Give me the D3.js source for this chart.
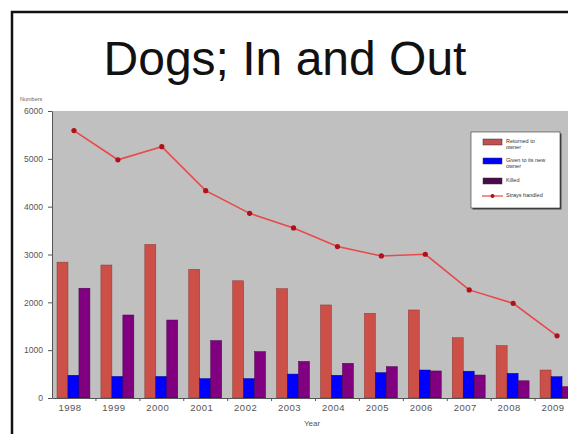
<!DOCTYPE html>
<html>
<head>
<meta charset="utf-8">
<script src="https://cdn.jsdelivr.net/npm/d3@7"></script>
<style>
  body { margin: 0; background: #fff; }
  svg { display: block; font-family: "Liberation Sans", Arial, sans-serif; }
</style>
</head>
<body>
<svg width="568" height="434"></svg>
<script>
// Data
const years = ["1998", "1999", "2000", "2001", "2002", "2003", "2004", "2005", "2006", "2007", "2008", "2009"];
const returned = [2840, 2780, 3210, 2690, 2450, 2285, 1945, 1770, 1840, 1260, 1095, 585];
const rehomed = [475, 450, 450, 405, 405, 500, 475, 530, 585, 560, 515, 445];
const killed = [2295, 1735, 1630, 1200, 970, 765, 725, 655, 565, 480, 360, 235];
const strays = [5590, 4980, 5255, 4335, 3860, 3555, 3165, 2970, 3005, 2260, 1980, 1300];
const yTicks = [0, 1000, 2000, 3000, 4000, 5000, 6000];
const seriesNames = ["Returned to owner", "Given to its new owner", "Killed", "Strays handled"];

const svg = d3.select("svg");

// slide frame
svg.append("path")
  .attr("d", "M12,440 L12,12 L575,12")
  .attr("fill", "none")
  .attr("stroke", "#111")
  .attr("stroke-width", 2.5);

// title
svg.append("text")
  .attr("x", 285).attr("y", 75)
  .attr("text-anchor", "middle")
  .attr("font-size", 48)
  .attr("fill", "#111")
  .text("Dogs; In and Out");

const margin = {top: 111, left: 52};
const width = 527, height = 287;
const graph = svg.append("g")
  .attr("transform", `translate(${margin.left},${margin.top})`);

const x = d3.scaleBand().domain(years).range([0, width]);
const inner = d3.scaleBand().domain([0, 1, 2])
  .range([5, x.bandwidth() - 6]);
const y = d3.scaleLinear().domain([0, 6000]).range([height, 0]);

graph.append("rect")
  .attr("width", width).attr("height", height)
  .attr("fill", "#c0c0c0");

// bars
const barSets = [
  {vals: returned, fill: "#cc5048", stroke: "#8a3530"},
  {vals: rehomed, fill: "#0000ff", stroke: "#00008a"},
  {vals: killed, fill: "#800080", stroke: "#4a004a"}
];
barSets.forEach((s, k) => {
  graph.selectAll(null)
    .data(years)
    .enter().append("rect")
    .attr("x", d => x(d) + inner(k))
    .attr("y", (d, i) => y(s.vals[i]))
    .attr("width", inner.bandwidth())
    .attr("height", (d, i) => height - y(s.vals[i]))
    .attr("fill", s.fill)
    .attr("stroke", s.stroke)
    .attr("stroke-width", 0.5);
});

// strays line
const line = d3.line()
  .x((d, i) => x(years[i]) + x.bandwidth() / 2)
  .y(d => y(d));
graph.append("path")
  .datum(strays)
  .attr("d", line)
  .attr("fill", "none")
  .attr("stroke", "#e8494a")
  .attr("stroke-width", 1.6);
graph.selectAll(null)
  .data(strays)
  .enter().append("circle")
  .attr("cx", (d, i) => x(years[i]) + x.bandwidth() / 2)
  .attr("cy", d => y(d))
  .attr("r", 2.6)
  .attr("fill", "#b0101a");

// axes
const yAxis = d3.axisLeft(y).tickValues(yTicks).tickFormat(d3.format("d"))
  .tickSize(4).tickSizeOuter(0);
const yg = graph.append("g").call(yAxis);
yg.select(".domain").attr("stroke", "#555");
yg.selectAll(".tick line").attr("stroke", "#555");
yg.selectAll("text")
  .attr("x", -9)
  .attr("font-size", 8.5)
  .attr("fill", "#555");

const xAxis = d3.axisBottom(x).tickSize(0).tickPadding(6);
const xg = graph.append("g")
  .attr("transform", `translate(0,${height})`)
  .call(xAxis);
xg.select(".domain").attr("stroke", "#555");
xg.selectAll("text")
  .attr("dx", -4)
  .attr("font-size", 9.5)
  .attr("letter-spacing", 0.5)
  .attr("fill", "#555");
// separators between categories
graph.selectAll(null)
  .data(years.slice(1))
  .enter().append("line")
  .attr("x1", d => x(d)).attr("x2", d => x(d))
  .attr("y1", height).attr("y2", height + 3)
  .attr("stroke", "#555");

svg.append("text")
  .attr("x", 312).attr("y", 426)
  .attr("text-anchor", "middle")
  .attr("font-size", 8)
  .attr("fill", "#555")
  .text("Year");

svg.append("text")
  .attr("x", 20).attr("y", 101)
  .attr("font-size", 5.5)
  .attr("fill", "#666")
  .text("Numbers");

// legend
const legend = svg.append("g").attr("transform", "translate(471,132)");
legend.append("rect")
  .attr("x", 1.5).attr("y", 1.5)
  .attr("width", 89).attr("height", 76)
  .attr("fill", "#444");
legend.append("rect")
  .attr("width", 89).attr("height", 76)
  .attr("fill", "#fff")
  .attr("stroke", "#333")
  .attr("stroke-width", 0.6);

const legendRows = [
  {y: 10, lines: ["Returned to", "owner"], fill: "#c0504d"},
  {y: 29, lines: ["Given to its new", "owner"], fill: "#0000ff"},
  {y: 49, lines: ["Killed"], fill: "#4a0a4a"},
  {y: 64, lines: ["Strays handled"], line: true}
];
legendRows.forEach((r, i) => {
  if (r.line) {
    legend.append("line")
      .attr("x1", 11).attr("x2", 32)
      .attr("y1", r.y).attr("y2", r.y)
      .attr("stroke", "#e8494a").attr("stroke-width", 1.2);
    legend.append("circle")
      .attr("cx", 21.5).attr("cy", r.y).attr("r", 2)
      .attr("fill", "#b0101a");
  } else {
    legend.append("rect")
      .attr("x", 12).attr("y", r.y - 3)
      .attr("width", 19).attr("height", 6)
      .attr("fill", r.fill)
      .attr("stroke", "#333").attr("stroke-width", 0.5);
  }
  const t = legend.append("text")
    .attr("x", 35).attr("y", r.y - 1)
    .attr("font-size", 5.5)
    .attr("fill", "#333");
  r.lines.forEach((l, j) => {
    t.append("tspan").attr("x", 35).attr("dy", j === 0 ? 1.5 : 6).text(l);
  });
  t.append("title").text(seriesNames[i]);
});
</script>
</body>
</html>
